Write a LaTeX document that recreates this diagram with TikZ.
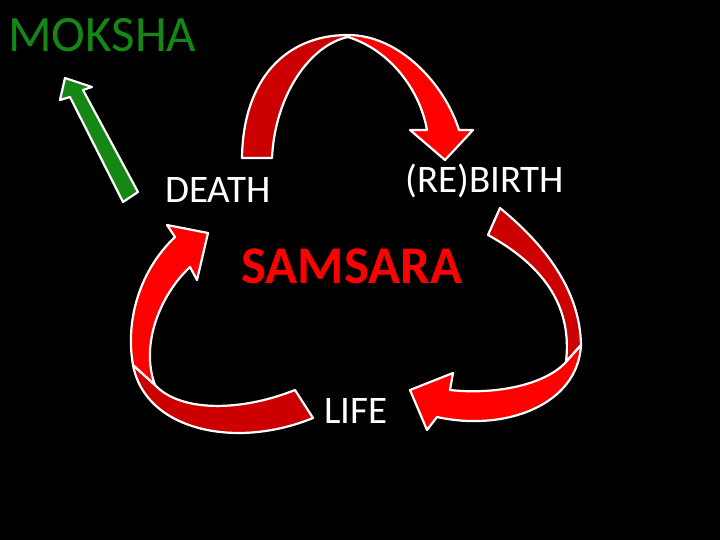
\documentclass[tikz,border=0pt]{standalone}
\usepackage{fontspec}
\setmainfont{Carlito}
\definecolor{darkred}{RGB}{204,0,0}
\definecolor{brightred}{RGB}{255,0,0}
\definecolor{mgreen}{RGB}{20,135,20}
\begin{document}
\begin{tikzpicture}[x=1pt,y=-1pt,
  band/.style={draw=white,line width=2.2pt,line join=round},
  lbl/.style={anchor=base west,inner sep=0pt,text=white}]
\fill[black] (0,0) rectangle (720,540);
\useasboundingbox (0,0) rectangle (720,540);
% top arrow (death -> rebirth)
\filldraw[band,fill=darkred] (242,158) .. controls (243,80) and (285,35) .. (348,35)
  -- (348,37) .. controls (310,45) and (275,95) .. (272,158) -- cycle;
\filldraw[band,fill=brightred] (348,35) .. controls (400,35) and (445,85) .. (459,130)
  -- (473,130) -- (445,160) -- (410,130) -- (427,130)
  .. controls (420,90) and (390,50) .. (348,37) -- cycle;
% right arrow (rebirth -> life)
\filldraw[band,fill=darkred] (500,208) .. controls (545,245) and (580,290) .. (581,345)
  -- (566,362) .. controls (572,310) and (548,268) .. (488,235) -- cycle;
\filldraw[band,fill=brightred] (581,345) .. controls (578,405) and (505,432) .. (437,417)
  -- (427,430) -- (410,390) -- (453,373) -- (450,390)
  .. controls (495,395) and (545,385) .. (566,362) -- cycle;
% left arrow (life -> death)
\filldraw[band,fill=darkred] (133,365) .. controls (145,430) and (235,450) .. (313,418)
  -- (295,390) .. controls (240,412) and (180,412) .. (155,385) -- cycle;
\filldraw[band,fill=brightred] (155,385) .. controls (140,345) and (160,295) .. (190,267)
  -- (197,280) -- (208,233) -- (167,225) -- (175,237)
  .. controls (140,270) and (125,320) .. (133,365) -- cycle;
% green arrow
\filldraw[band,fill=mgreen] (138,192) -- (83,90) -- (92,87) -- (65,78) -- (60,100) -- (70,97) -- (123,202) -- cycle;
% texts
\node[lbl,text=mgreen,font=\fontsize{51}{51}\selectfont] (moksha) at (8,52) {MOKSHA};
\node[lbl,font=\fontsize{39}{39}\selectfont] (death) at (165,203) {DEATH};
\node[lbl,font=\fontsize{39}{39}\selectfont] (rebirth) at (405,193) {(RE)BIRTH};
\node[lbl,text=brightred,font=\bfseries\fontsize{53}{53}\selectfont] (samsara) at (241,283) {SAMSARA};
\node[lbl,font=\fontsize{39}{39}\selectfont] (life) at (324,423) {LIFE};
\end{tikzpicture}
\end{document}
